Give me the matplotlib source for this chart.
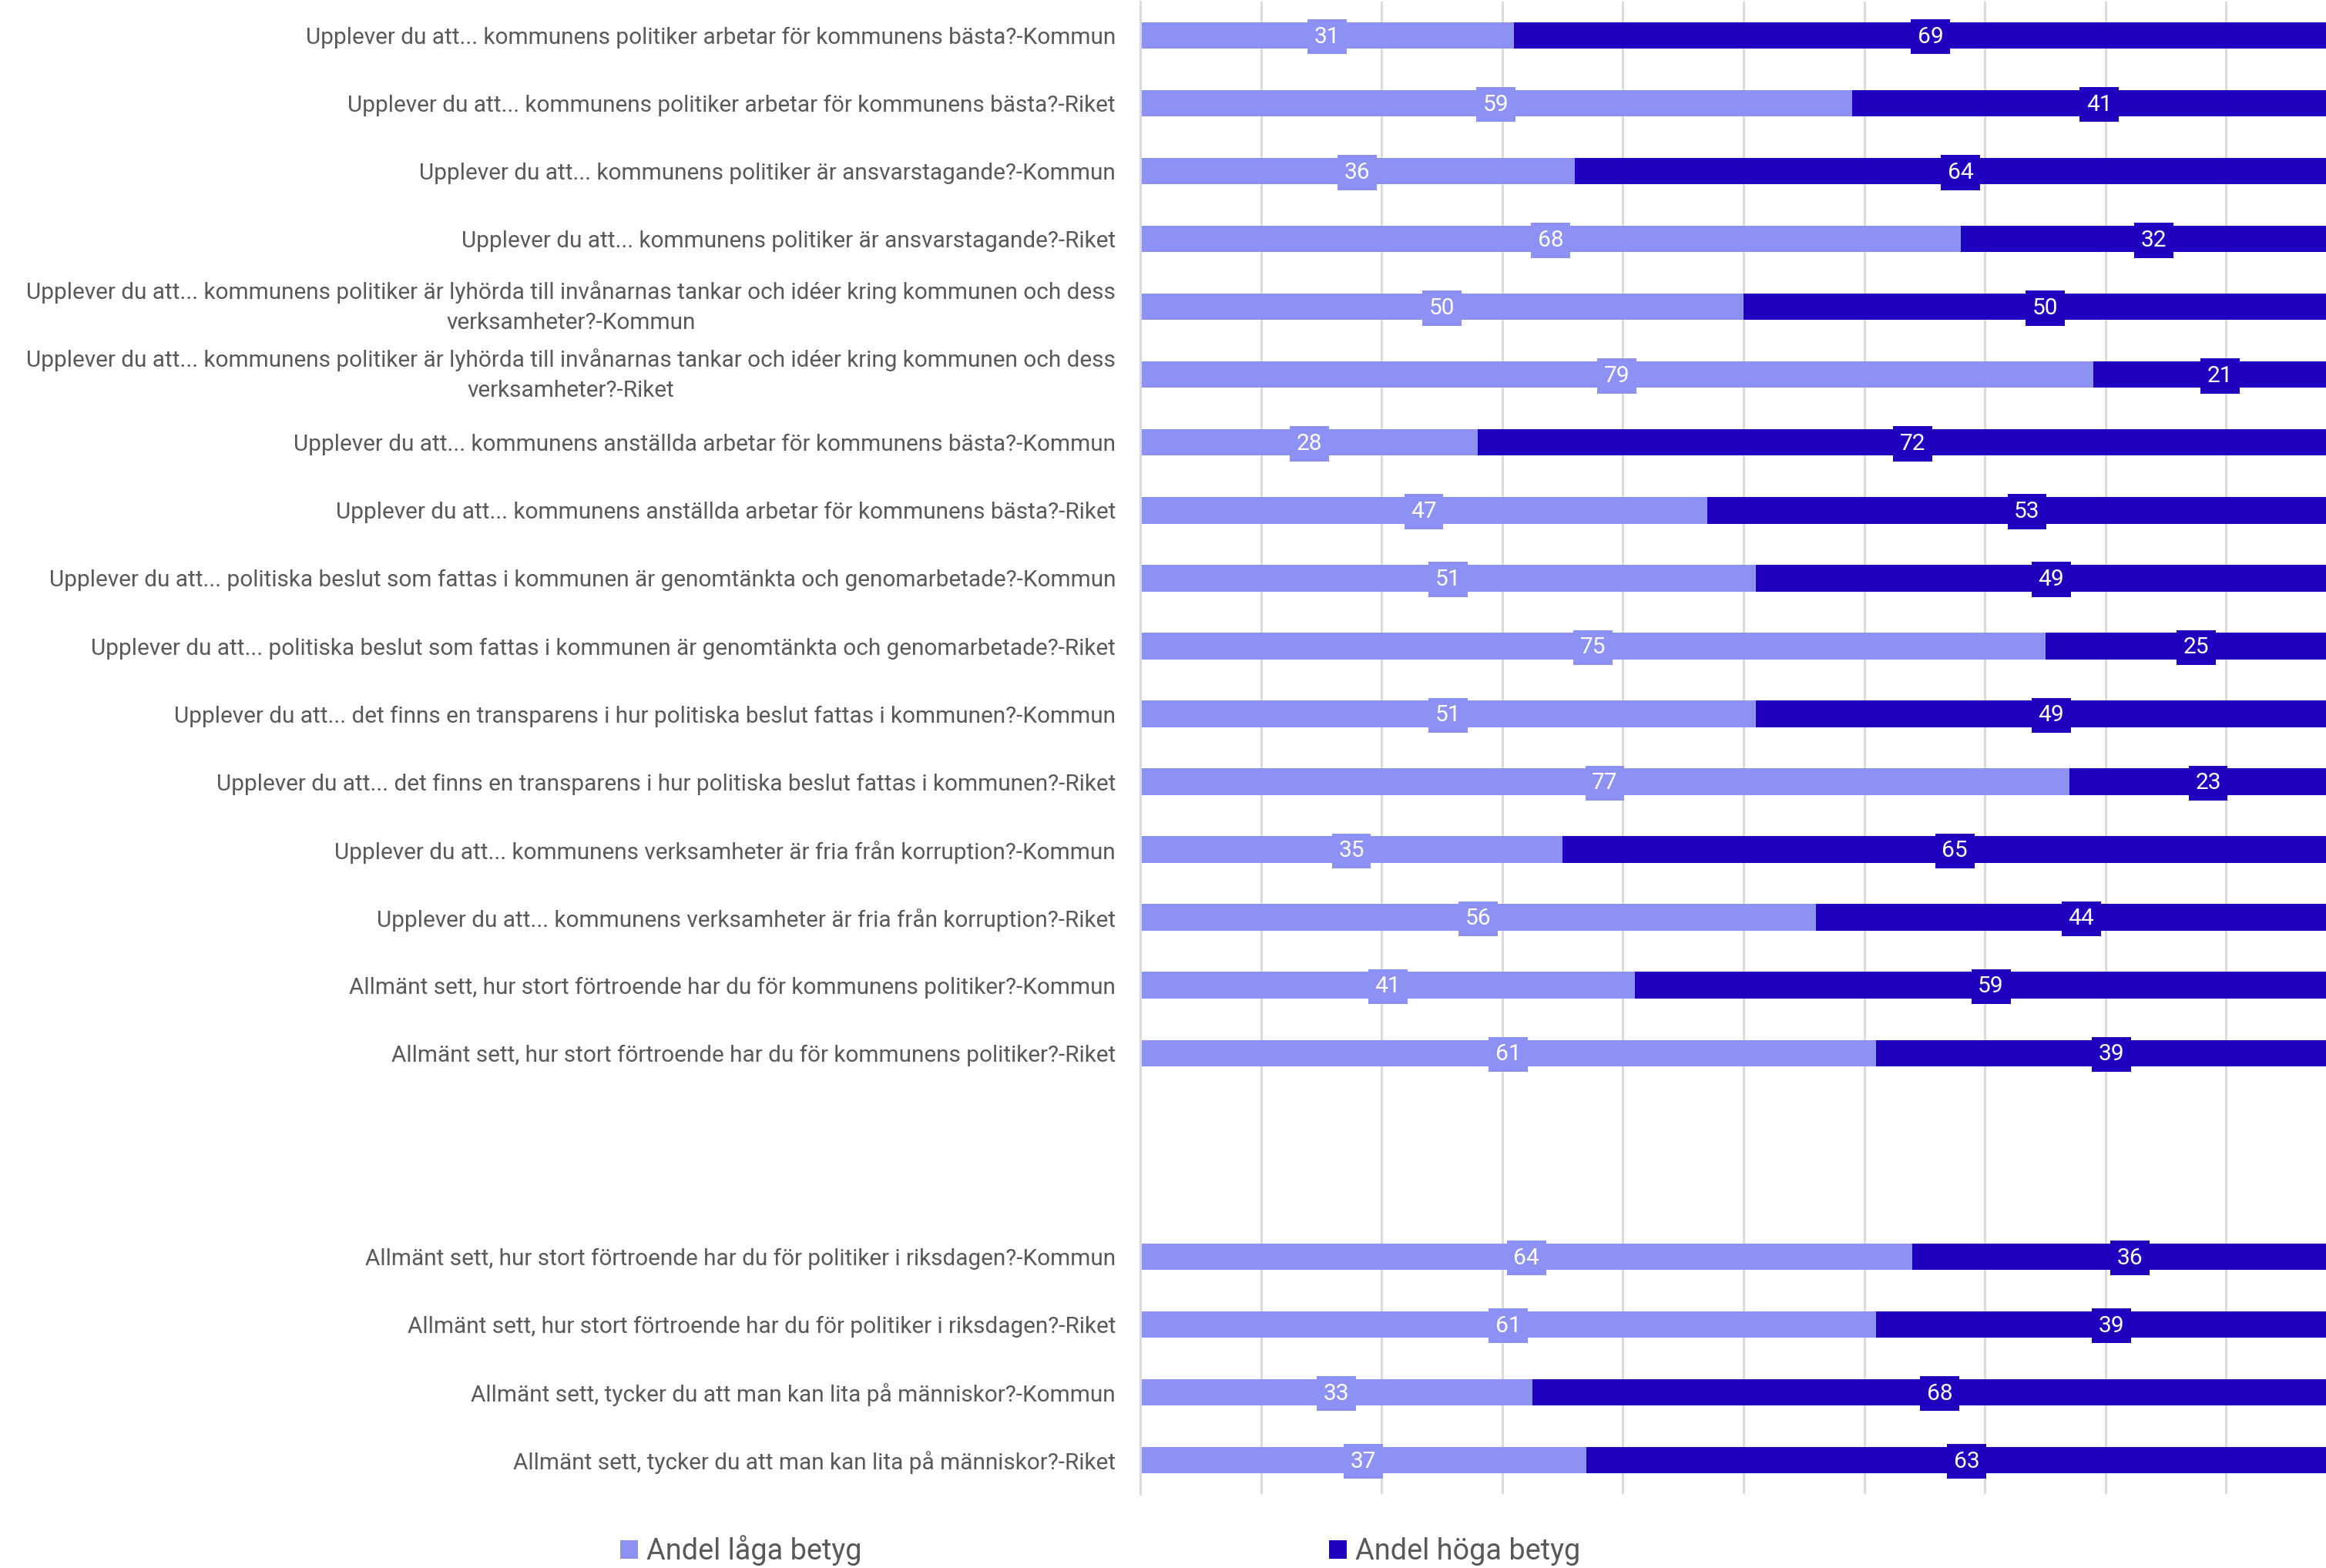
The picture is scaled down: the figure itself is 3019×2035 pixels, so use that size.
import math
import matplotlib
matplotlib.use("Agg")
import matplotlib.pyplot as plt
from matplotlib.patches import Patch

plt.rcParams['font.family'] = ['Roboto', 'DejaVu Sans']

categories = [
    "Upplever du att... kommunens politiker arbetar för kommunens bästa?-Kommun",
    "Upplever du att... kommunens politiker arbetar för kommunens bästa?-Riket",
    "Upplever du att... kommunens politiker är ansvarstagande?-Kommun",
    "Upplever du att... kommunens politiker är ansvarstagande?-Riket",
    "Upplever du att... kommunens politiker är lyhörda till invånarnas tankar och idéer kring kommunen och dess\nverksamheter?-Kommun",
    "Upplever du att... kommunens politiker är lyhörda till invånarnas tankar och idéer kring kommunen och dess\nverksamheter?-Riket",
    "Upplever du att... kommunens anställda arbetar för kommunens bästa?-Kommun",
    "Upplever du att... kommunens anställda arbetar för kommunens bästa?-Riket",
    "Upplever du att... politiska beslut som fattas i kommunen är genomtänkta och genomarbetade?-Kommun",
    "Upplever du att... politiska beslut som fattas i kommunen är genomtänkta och genomarbetade?-Riket",
    "Upplever du att... det finns en transparens i hur politiska beslut fattas i kommunen?-Kommun",
    "Upplever du att... det finns en transparens i hur politiska beslut fattas i kommunen?-Riket",
    "Upplever du att... kommunens verksamheter är fria från korruption?-Kommun",
    "Upplever du att... kommunens verksamheter är fria från korruption?-Riket",
    "Allmänt sett, hur stort förtroende har du för kommunens politiker?-Kommun",
    "Allmänt sett, hur stort förtroende har du för kommunens politiker?-Riket",
    "",
    "",
    "Allmänt sett, hur stort förtroende har du för politiker i riksdagen?-Kommun",
    "Allmänt sett, hur stort förtroende har du för politiker i riksdagen?-Riket",
    "Allmänt sett, tycker du att man kan lita på människor?-Kommun",
    "Allmänt sett, tycker du att man kan lita på människor?-Riket",
]

andel_laga = [31, 59, 36, 68, 50, 79, 28, 47, 51, 75, 51, 77, 35, 56, 41, 61,
              None, None, 64, 61, 32.5, 37]
andel_hoga = [69, 41, 64, 32, 50, 21, 72, 53, 49, 25, 49, 23, 65, 44, 59, 39,
              None, None, 36, 39, 67.5, 63]

series_names = ["Andel låga betyg", "Andel höga betyg"]
colors = ["#8E91F4", "#1F00BF"]
text_color = "#595959"

W, H = 3019, 2035
fig = plt.figure(figsize=(W / 100, H / 100), dpi=100)
ax = fig.add_axes([1480 / W, 1 - 1939 / H, 1566 / W, 1937 / H])

y = list(range(len(categories)))
bar_h = 0.39

def fmt(v):
    return str(int(math.floor(v + 0.5)))

for i, (lo, hi) in enumerate(zip(andel_laga, andel_hoga)):
    if lo is None:
        continue
    ax.barh(i, lo, height=bar_h, left=0, color=colors[0], zorder=2)
    ax.barh(i, hi, height=bar_h, left=lo, color=colors[1], zorder=2)
    for start, val, c in ((0, lo, colors[0]), (lo, hi, colors[1])):
        ax.text(start + val / 2, i + 0.02, fmt(val), ha='center', va='center',
                color='white', fontsize=21.5, zorder=4,
                bbox=dict(boxstyle='square,pad=0.29', fc=c, ec='none'))

ax.set_xlim(0, 100)
ax.set_ylim(len(categories) - 0.5, -0.5)
ax.set_xticks(range(0, 101, 10))
ax.set_xticklabels([])
ax.tick_params(axis='x', length=0)
ax.grid(axis='x', color='#D9D9D9', linewidth=2, zorder=0)
ax.set_axisbelow(True)

ax.set_yticks(y)
ax.set_yticklabels(categories, fontsize=21.4, color=text_color,
                   multialignment='center', linespacing=1.5)
for lbl in ax.get_yticklabels():
    if "\n" in lbl.get_text():
        lbl.set_verticalalignment('center')
ax.tick_params(axis='y', length=0, pad=23)

for s in ['top', 'right', 'bottom']:
    ax.spines[s].set_visible(False)
ax.spines['left'].set_color('#D9D9D9')
ax.spines['left'].set_linewidth(2)

handles = [Patch(facecolor=colors[0], edgecolor='none'),
           Patch(facecolor=colors[1], edgecolor='none')]
fig.legend(handles, series_names, loc='center left',
           bbox_to_anchor=(805 / W, 1 - 2012 / H), ncol=2, frameon=False,
           fontsize=27.3, labelcolor=text_color, handlelength=0.6,
           handleheight=0.6, handletextpad=0.3, columnspacing=16.0,
           borderpad=0, borderaxespad=0)

fig.savefig("out.png", dpi=100)
